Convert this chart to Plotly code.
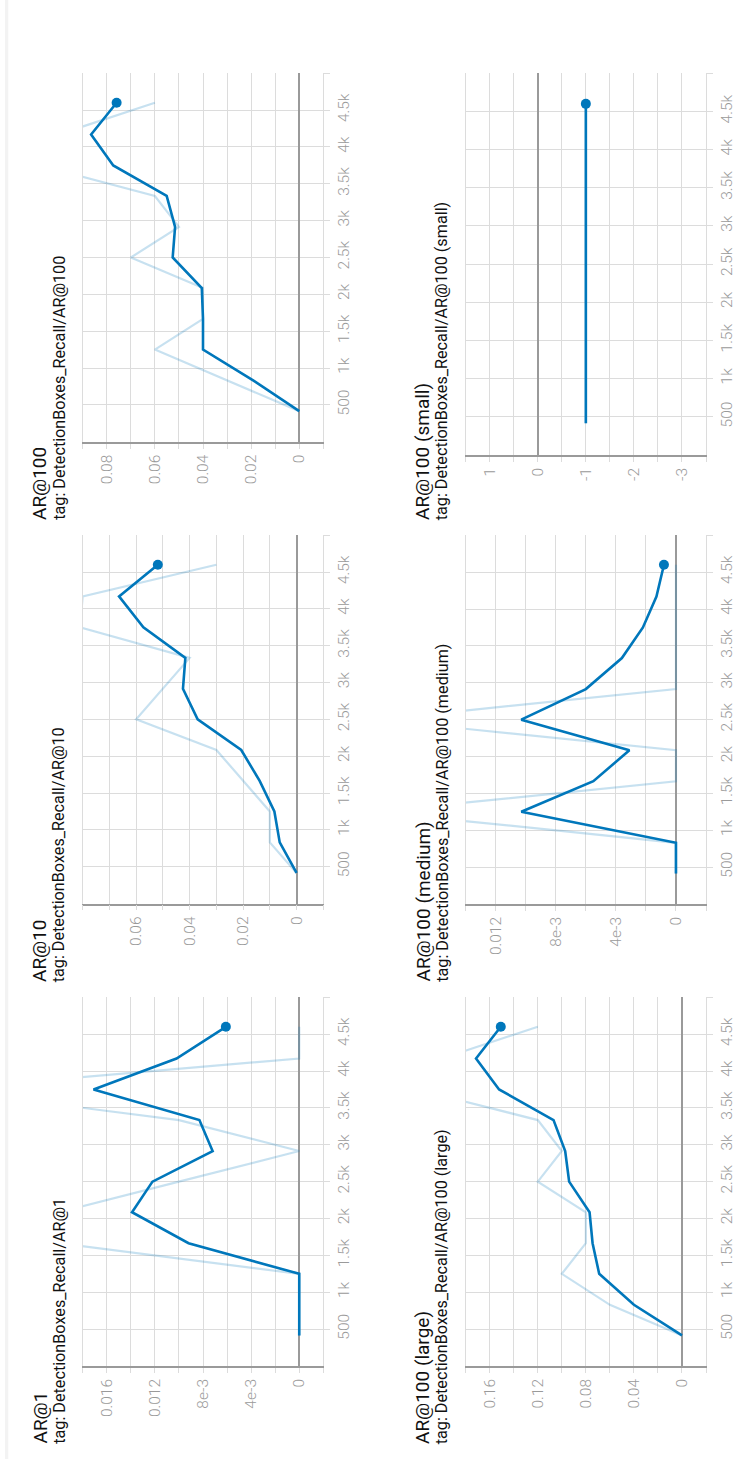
import plotly.graph_objects as go

# ---------------- data ----------------
steps = [415, 830, 1250, 1665, 2085, 2500, 2915, 3335, 3750, 4170, 4600]

ar1_raw = [0, 0, 0, 0.02, 0.02, 0.01, 0, 0.01, 0.03, 0, 0]
ar1_smooth = [0, 0, 0, 0.0092, 0.0139, 0.0122, 0.0072, 0.0083, 0.0171, 0.0102, 0.0061]

ar10_raw = [0, 0.01, 0.01, 0.02, 0.03, 0.06, 0.05, 0.04, 0.081, 0.08, 0.03]
ar10_smooth = [0, 0.0063, 0.0083, 0.0138, 0.0207, 0.037, 0.0425, 0.0416, 0.0573, 0.0664, 0.0519]

ar100_raw = [0, 0.03, 0.06, 0.04, 0.04, 0.07, 0.05, 0.06, 0.108, 0.10, 0.06]
ar100_smooth = [0, 0.019, 0.040, 0.040, 0.0405, 0.0526, 0.0516, 0.0551, 0.0773, 0.0865, 0.0759]

large_raw = [0, 0.06, 0.10, 0.08, 0.08, 0.12, 0.10, 0.12, 0.22, 0.20, 0.12]
large_smooth = [0, 0.040, 0.0689, 0.0744, 0.0769, 0.0939, 0.0972, 0.1069, 0.1522, 0.1714, 0.1508]

medium_raw = [0, 0, 0.02, 0, 0, 0.02, 0, 0, 0, 0, 0]
medium_smooth = [0, 0, 0.0103, 0.0055, 0.0031, 0.0103, 0.0060, 0.0036, 0.0022, 0.0013, 0.0008]

small_raw = [-1, -1, -1, -1, -1, -1, -1, -1, -1, -1, -1]
small_smooth = [-1, -1, -1, -1, -1, -1, -1, -1, -1, -1, -1]

titles = ["AR@100", "AR@100 (small)", "AR@10", "AR@100 (medium)", "AR@1", "AR@100 (large)"]
tags = ["tag: DetectionBoxes_Recall/AR@100", "tag: DetectionBoxes_Recall/AR@100 (small)",
        "tag: DetectionBoxes_Recall/AR@10", "tag: DetectionBoxes_Recall/AR@100 (medium)",
        "tag: DetectionBoxes_Recall/AR@1", "tag: DetectionBoxes_Recall/AR@100 (large)"]

step_tick_vals = [500, 1000, 1500, 2000, 2500, 3000, 3500, 4000, 4500, 5000]
step_tick_text = ["500", "1k", "1.5k", "2k", "2.5k", "3k", "3.5k", "4k", "4.5k", ""]

ar100_ticks = [0.08, 0.06, 0.04, 0.02, 0]
ar100_ticktext = ["0.08", "0.06", "0.04", "0.02", "0"]
small_ticks = [1, 0, -1, -2, -3]
small_ticktext = ["1", "0", "-1", "-2", "-3"]
ar10_ticks = [0.06, 0.04, 0.02, 0]
ar10_ticktext = ["0.06", "0.04", "0.02", "0"]
medium_ticks = [0.012, 0.008, 0.004, 0]
medium_ticktext = ["0.012", "8e-3", "4e-3", "0"]
ar1_ticks = [0.016, 0.012, 0.008, 0.004, 0]
ar1_ticktext = ["0.016", "0.012", "8e-3", "4e-3", "0"]
large_ticks = [0.16, 0.12, 0.08, 0.04, 0]
large_ticktext = ["0.16", "0.12", "0.08", "0.04", "0"]

# ---------------- layout helpers ----------------
W, H = 736, 1459


def px(x):
    return x / W


def py(y):
    return 1 - y / H


def grid_vals(lo, hi, step):
    n = int(round((hi - lo) / step))
    return [round(lo + i * step, 6) for i in range(n + 1)]


BLUE = "#0077bb"
FAINT = "rgba(0,119,187,0.22)"
GRID = "#dcdcdc"
AXIS = "#9a9a9a"
TICKFONT = dict(family="Roboto", size=15.5, color="#9a9a9a", weight=300)

# panel geometry: (x0, x1) px, (y0, y1) px, value range [max, min], grid step
panels = [
    (ar100_raw, ar100_smooth, (82.7, 323.3), (73.3, 441.7), (0.09, -0.01), 0.01, ar100_ticks, ar100_ticktext),
    (small_raw, small_smooth, (465.7, 706.0), (73.3, 455.0), (1.5, -3.5), 0.5, small_ticks, small_ticktext),
    (ar10_raw, ar10_smooth, (82.7, 323.3), (535.3, 903.5), (0.08, -0.01), 0.01, ar10_ticks, ar10_ticktext),
    (medium_raw, medium_smooth, (465.7, 706.0), (535.3, 904.0), (0.014, -0.002), 0.002, medium_ticks, medium_ticktext),
    (ar1_raw, ar1_smooth, (82.7, 323.3), (997.3, 1366.0), (0.018, -0.002), 0.002, ar1_ticks, ar1_ticktext),
    (large_raw, large_smooth, (465.7, 706.0), (997.3, 1366.0), (0.18, -0.02), 0.02, large_ticks, large_ticktext),
]
title_start = [521, 521, 983, 983, 1445, 1445]
col_offset = [0, 383, 0, 383, 0, 383]

fig = go.Figure()
layout = dict(
    width=W, height=H, margin=dict(l=0, r=0, t=0, b=0),
    paper_bgcolor="white", plot_bgcolor="white", showlegend=False,
    font=dict(family="Roboto"),
    annotations=[], shapes=[],
)

for i, (raw, smooth, (x0, x1), (y0, y1), vr, gstep, tv, tt) in enumerate(panels):
    k = i + 1
    xa = "x" if k == 1 else f"x{k}"
    ya = "y" if k == 1 else f"y{k}"
    fig.add_trace(go.Scatter(x=raw, y=steps, mode="lines", xaxis=xa, yaxis=ya,
                             line=dict(color=FAINT, width=2.2), hoverinfo="skip"))
    fig.add_trace(go.Scatter(x=smooth, y=steps, mode="lines", xaxis=xa, yaxis=ya,
                             line=dict(color=BLUE, width=2.6)))
    fig.add_trace(go.Scatter(x=[smooth[-1]], y=[steps[-1]], mode="markers", xaxis=xa, yaxis=ya,
                             marker=dict(color=BLUE, size=10), cliponaxis=False))
    gv = grid_vals(vr[1], vr[0], gstep)
    layout["xaxis" if k == 1 else f"xaxis{k}"] = dict(
        domain=[px(x0), px(x1)], anchor=ya, range=list(vr), side="bottom",
        tickmode="array", tickvals=tv, ticktext=tt, tickangle=-90,
        ticks="outside", ticklen=5, tickcolor=GRID, tickfont=TICKFONT,
        showgrid=True, gridcolor=GRID, gridwidth=1,
        minor=dict(tickmode="array", tickvals=gv, showgrid=True, gridcolor=GRID,
                   ticks="outside", ticklen=5, tickcolor=GRID),
        zeroline=True, zerolinecolor=AXIS, zerolinewidth=1.8,
        showline=True, linecolor=AXIS, linewidth=1.6, fixedrange=True,
    )
    layout["yaxis" if k == 1 else f"yaxis{k}"] = dict(
        domain=[py(y1), py(y0)], anchor=xa, range=[0, 5000], side="right",
        tickmode="array", tickvals=step_tick_vals, ticktext=step_tick_text, tickangle=-90,
        ticks="outside", ticklen=6, tickcolor=GRID, tickfont=TICKFONT,
        showgrid=True, gridcolor=GRID, gridwidth=1, zeroline=False,
        showline=True, linecolor=GRID, linewidth=1, mirror=True, fixedrange=True,
    )
    off = col_offset[i]
    ys = py(title_start[i])
    layout["annotations"].append(dict(
        text=titles[i], x=px(39.5 + off), y=ys, xref="paper", yref="paper",
        xanchor="center", yanchor="bottom", textangle=-90, showarrow=False,
        font=dict(family="Roboto", size=19, color="#111111"), borderpad=0))
    layout["annotations"].append(dict(
        text=tags[i], x=px(58.8 + off), y=ys, xref="paper", yref="paper",
        xanchor="center", yanchor="bottom", textangle=-90, showarrow=False,
        font=dict(family="Roboto", size=16.2, color="#111111"), borderpad=0))

layout["shapes"].append(dict(type="rect", xref="paper", yref="paper",
                             x0=px(5), x1=px(8.3), y0=0, y1=1,
                             fillcolor="#f3f3f3", line=dict(width=0), layer="below"))

fig.update_layout(**layout)
fig.write_html("out.html")
